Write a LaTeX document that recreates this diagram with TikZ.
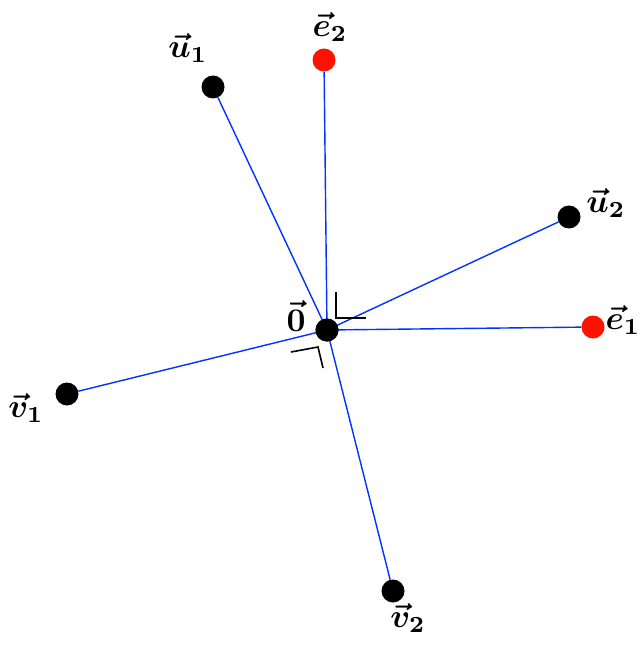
\documentclass[tikz,border=0pt]{standalone}
\usepackage{graphicx}
\usepackage{amsmath,bm}
\newcommand{\biglbl}[1]{\scalebox{3.3}{$\bm{#1}$}}
\begin{document}
\begin{tikzpicture}[x=1pt,y=-1pt,
  dotb/.style={circle,fill=black,inner sep=0pt,minimum size=23pt},
  dotr/.style={circle,fill=red!85!orange,inner sep=0pt,minimum size=23pt},
  vecline/.style={blue!80!cyan,line width=1.4pt},
  anglemark/.style={black,line width=1.6pt},
  lbl/.style={inner sep=0pt}]
\useasboundingbox (0,0) rectangle (643,652);
\node[dotb] (o) at (327,330) {};
\node[dotb] (u1) at (213,87) {};
\node[dotr] (e2) at (324,60) {};
\node[dotb] (u2) at (569,217) {};
\node[dotr] (e1) at (593,327) {};
\node[dotb] (v1) at (67,394) {};
\node[dotb] (v2) at (393,591) {};
\draw[vecline] (o.center) -- (u1);
\draw[vecline] (o.center) -- (e2);
\draw[vecline] (o.center) -- (u2);
\draw[vecline] (o.center) -- (e1);
\draw[vecline] (o.center) -- (v1);
\draw[vecline] (o.center) -- (v2);
\node[dotb] at (o) {};
\coordinate (m1a) at (336,292);
\coordinate (m1b) at (336,318);
\coordinate (m1c) at (366,318);
\coordinate (m2a) at (291,352);
\coordinate (m2b) at (318,347);
\coordinate (m2c) at (323,368);
\draw[anglemark] (m1a) -- (m1b) -- (m1c);
\draw[anglemark] (m2a) -- (m2b) -- (m2c);
\node[lbl] (lu1) at (188,48) {\biglbl{\vec{u}_1}};
\node[lbl] (le2) at (330,27) {\biglbl{\vec{e}_2}};
\node[lbl] (lu2) at (606,203) {\biglbl{\vec{u}_2}};
\node[lbl] (le1) at (623,320) {\biglbl{\vec{e}_1}};
\node[lbl] (lv1) at (26,408) {\biglbl{\vec{v}_1}};
\node[lbl] (lv2) at (408,618) {\biglbl{\vec{v}_2}};
\node[lbl] (lo) at (296,316) {\biglbl{\vec{0}}};
\end{tikzpicture}
\end{document}
